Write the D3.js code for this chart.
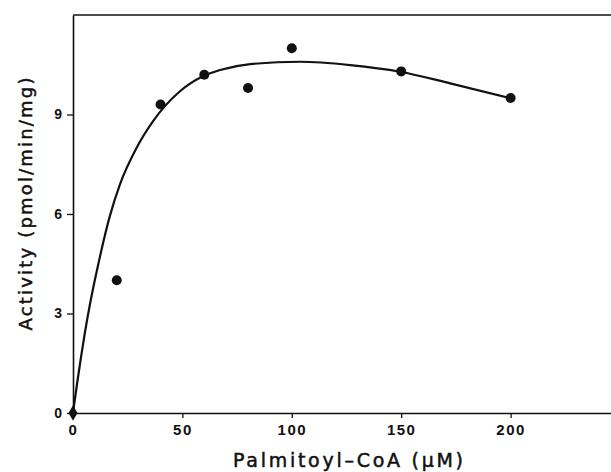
<!DOCTYPE html>
<html>
<head>
<meta charset="utf-8">
<script src="https://d3js.org/d3.v7.min.js"></script>
<style>
  body { margin: 0; background: #fff; }
  .tick text { font-family: "Liberation Sans", Arial, sans-serif; font-weight: bold; fill: #111; }
  .lbl { font-family: "DejaVu Sans", sans-serif; fill: #111; stroke: #111; stroke-width: 0.5px; }
</style>
</head>
<body>
<script>
// measured points (Palmitoyl-CoA uM, activity pmol/min/mg)
var conc = [20, 40, 60, 80, 100, 150, 200];
var activity = [4.0, 9.3, 10.2, 9.8, 11.0, 10.3, 9.5];

// fitted curve
var curveX = [0, 2.0, 3.7, 5.5, 8.1, 11.1, 16.9, 21.5, 29.1, 36.6, 48.9, 59.4, 67.2, 81, 103.8, 126.7, 149.5, 172.4, 200];
var curveY = [0, 0.95, 1.7, 2.45, 3.4, 4.35, 5.95, 6.9, 8.0, 8.8, 9.7, 10.15, 10.34, 10.52, 10.59, 10.49, 10.29, 9.94, 9.49];

var xTicks = [0, 50, 100, 150, 200];
var yTicks = [0, 3, 6, 9];

var W = 611, H = 472;
var svg = d3.select("body").append("svg")
  .attr("width", W).attr("height", H);

var x = d3.scaleLinear().domain([0, 250]).range([73, 620]);
var y = d3.scaleLinear().domain([0, 12]).range([413, 15]);

// frame top line
svg.append("line")
  .attr("x1", x(0)).attr("x2", W)
  .attr("y1", y(12)).attr("y2", y(12))
  .attr("stroke", "#111").attr("stroke-width", 1.6);

var xAxis = svg.append("g")
  .attr("transform", "translate(0," + y(0) + ")")
  .call(d3.axisBottom(x).tickValues(xTicks).tickSize(5).tickSizeOuter(0).tickPadding(6).tickFormat(d3.format("d")));
xAxis.selectAll("text").style("font-size", "15px").style("letter-spacing", "1.5px");

var yAxis = svg.append("g")
  .attr("transform", "translate(" + x(0) + ",0)")
  .call(d3.axisLeft(y).tickValues(yTicks).tickSize(6).tickSizeOuter(0).tickPadding(5).tickFormat(d3.format("d")));
yAxis.selectAll("text").style("font-size", "14px");

svg.selectAll(".domain").attr("stroke", "#111").attr("stroke-width", 1.6);
svg.selectAll(".tick line").attr("stroke", "#111").attr("stroke-width", 1.3);

// curve
var pts = curveX.map(function(d, i) { return [d, curveY[i]]; });
var line = d3.line()
  .x(function(d) { return x(d[0]); })
  .y(function(d) { return y(d[1]); })
  .curve(d3.curveMonotoneX);
svg.append("path")
  .attr("d", line(pts))
  .attr("fill", "none")
  .attr("stroke", "#111")
  .attr("stroke-width", 2.2);

// data points
svg.selectAll(".pt")
  .data(conc)
  .enter().append("circle")
  .attr("class", "pt")
  .attr("cx", function(d) { return x(d); })
  .attr("cy", function(d, i) { return y(activity[i]); })
  .attr("r", 5)
  .attr("fill", "#111");

// origin marker
svg.append("path")
  .attr("d", d3.symbol().type(d3.symbolDiamond).size(70))
  .attr("transform", "translate(" + x(0) + "," + y(0) + ")")
  .attr("fill", "#111");

// axis titles
svg.append("text")
  .attr("class", "lbl")
  .attr("x", 348).attr("y", 467)
  .attr("text-anchor", "middle")
  .attr("textLength", 230).attr("lengthAdjust", "spacing")
  .style("font-size", "19px")
  .text("Palmitoyl\u2013CoA  (\u03bcM)");

svg.append("text")
  .attr("class", "lbl")
  .attr("transform", "translate(32,204) rotate(-90)")
  .attr("text-anchor", "middle")
  .attr("textLength", 253).attr("lengthAdjust", "spacing")
  .style("font-size", "18px")
  .text("Activity  (pmol/min/mg)");
</script>
</body>
</html>
